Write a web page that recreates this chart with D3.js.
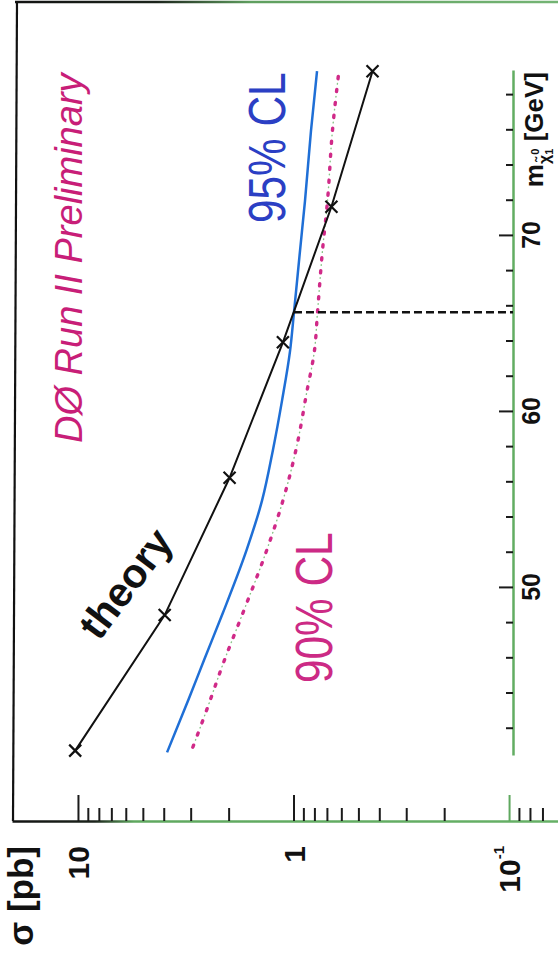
<!DOCTYPE html>
<html>
<head>
<meta charset="utf-8">
<script src="https://cdn.jsdelivr.net/npm/d3@7"></script>
<style>
  html, body { margin: 0; padding: 0; background: #fff; }
  svg { display: block; }
  text { font-family: "Liberation Sans", Arial, Helvetica, sans-serif; }
</style>
</head>
<body>
<svg id="chart" width="558" height="955"></svg>
<script>
// Chargino/neutralino cross section vs. neutralino mass (plot drawn rotated 90°)
const massTheory  = [40.7, 48.4, 56.2, 63.9, 71.6, 79.3];
const sigmaTheory = [10.3, 3.96, 1.98, 1.12, 0.667, 0.43];

const massCL95  = [40.6, 43.6, 45.85, 48.5, 52.1, 54.9, 57.8, 60.6, 63.4, 65.6, 69.1, 71.9, 75.9, 79.3];
const sigmaCL95 = [3.86, 3.07, 2.60, 2.13, 1.65, 1.40, 1.245, 1.13, 1.038, 0.995, 0.933, 0.885, 0.83, 0.778];

const massCL90  = [40.85, 43.0, 45.85, 48.5, 52.1, 54.9, 58.2, 61.0, 63.4, 65.6, 69.1, 71.9, 75.9, 79.0];
const sigmaCL90 = [2.94, 2.53, 2.09, 1.72, 1.33, 1.12, 0.958, 0.87, 0.80, 0.774, 0.734, 0.696, 0.66, 0.62];

const massLimit = 65.6;   // 95% CL exclusion
const sigmaLimit = 0.995;

const sigmaMajor = [10, 1, 0.1];
const sigmaMinor = [9, 8, 7, 6, 5, 4, 3, 2, 0.9, 0.8, 0.7, 0.6, 0.5, 0.4, 0.3, 0.2, 0.09, 0.08, 0.07];
const massMajor = [50, 60, 70];
const massMinor = [42, 44, 46, 48, 52, 54, 56, 58, 62, 64, 66, 68, 72, 74, 76, 78];

const svg = d3.select("#chart");

// sigma runs right-to-left along the bottom, mass runs bottom-to-top on the right
const xS = d3.scaleLog().domain([Math.pow(10, 1.306), Math.pow(10, -1.227)]).range([12, 558]);
const yM = d3.scaleLinear().domain([40.45, 79.37]).range([755, 70]);
const axisY = 821;   // sigma axis baseline
const axisX = 513;   // mass axis line

const defs = svg.append("defs");
function hGrad(id, stops) {
  const g = defs.append("linearGradient").attr("id", id)
    .attr("gradientUnits", "userSpaceOnUse")
    .attr("x1", 0).attr("x2", 558).attr("y1", 0).attr("y2", 0);
  stops.forEach(([o, c]) => g.append("stop").attr("offset", o).attr("stop-color", c));
}
hGrad("gTop", [[0, "#111"], [0.28, "#1c241c"], [0.45, "#5f9f5f"], [1, "#74b474"]]);
hGrad("gBot", [[0, "#111"], [0.17, "#1c241c"], [0.24, "#5fa85f"], [1, "#66b066"]]);

// frame: top and left borders
svg.append("line").attr("x1", 15).attr("x2", 558).attr("y1", 2).attr("y2", 2)
  .attr("stroke", "url(#gTop)").attr("stroke-width", 2.5);
svg.append("line").attr("x1", 17).attr("x2", 13).attr("y1", 1).attr("y2", axisY)
  .attr("stroke", "#111").attr("stroke-width", 2.2);

// sigma axis (bottom), ticks pointing into the plot
const gS = svg.append("g").attr("transform", `translate(0,${axisY})`);
gS.call(d3.axisBottom(xS).tickValues(sigmaMajor).tickSize(-26).tickSizeOuter(0).tickFormat(""));
const gS2 = svg.append("g").attr("transform", `translate(0,${axisY})`);
gS2.call(d3.axisBottom(xS).tickValues(sigmaMinor).tickSize(-13).tickSizeOuter(0).tickFormat(""));
gS2.select(".domain").remove();
gS.select(".domain").attr("stroke", "url(#gBot)").attr("stroke-width", 2.5);
[gS, gS2].forEach(g => g.selectAll(".tick line").attr("stroke", "#1a1a1a").attr("stroke-width", 2));
gS.selectAll(".tick line").filter(d => d === 0.1).attr("stroke", "#5fa85f");

// mass axis (right)
const gM = svg.append("g").attr("transform", `translate(${axisX},0)`);
gM.call(d3.axisRight(yM).tickValues(massMajor).tickSize(-14).tickSizeOuter(0).tickFormat(""));
const gM2 = svg.append("g").attr("transform", `translate(${axisX},0)`);
gM2.call(d3.axisRight(yM).tickValues(massMinor).tickSize(-7).tickSizeOuter(0).tickFormat(""));
gM2.select(".domain").remove();
gM.select(".domain").attr("stroke", "#62ad62").attr("stroke-width", 2.5);
[gM, gM2].forEach(g => g.selectAll(".tick line").attr("stroke", "#1a1a1a").attr("stroke-width", 2));

// sigma tick labels (rotated, right-aligned toward the top)
const sLab = svg.append("g").attr("font-weight", "bold").attr("font-size", 30).attr("fill", "#111");
[[10, "10"], [1, "1"]].forEach(([v, t]) => {
  sLab.append("text")
    .attr("transform", `translate(${xS(v) + 11},846) rotate(-90)`)
    .attr("text-anchor", "end").text(t);
});
const tenth = sLab.append("text")
  .attr("transform", `translate(${xS(0.1) + 11},846) rotate(-90)`)
  .attr("text-anchor", "end");
tenth.append("tspan").text("10");
tenth.append("tspan").attr("font-size", 15).attr("dy", -16).text("-1");

// sigma axis title
svg.append("text")
  .attr("transform", `translate(33,846) rotate(-90)`)
  .attr("text-anchor", "end").attr("font-weight", "bold").attr("font-size", 35).attr("fill", "#111")
  .text("σ [pb]");

// mass tick labels
const mLab = svg.append("g").attr("font-weight", "bold").attr("font-size", 25).attr("fill", "#111");
massMajor.forEach(v => {
  mLab.append("text")
    .attr("transform", `translate(540,${yM(v)}) rotate(-90)`)
    .attr("text-anchor", "middle").text(v);
});

// mass axis title
const mt = svg.append("text")
  .attr("transform", `translate(543,72) rotate(-90)`)
  .attr("text-anchor", "end").attr("font-weight", "bold").attr("font-size", 26).attr("fill", "#111");
mt.append("tspan").text("m");
mt.append("tspan").attr("font-size", 16).attr("dy", 7).text("χ̃");
mt.append("tspan").attr("font-size", 11).attr("dy", 3).text("1");
mt.append("tspan").attr("font-size", 11).attr("dy", -14).attr("dx", -6).text("0");
mt.append("tspan").attr("font-size", 26).attr("dy", 4).text(" [GeV]");

// curves: points ordered top to bottom on screen
const smooth = d3.line().curve(d3.curveMonotoneY);
const pts = (ms, ss) => ms.map((m, i) => [xS(ss[i]), yM(m)]);
const byY = p => p.slice().sort((a, b) => a[1] - b[1]);

const p90 = byY(pts(massCL90, sigmaCL90));
svg.append("path").attr("d", smooth(p90))
  .attr("fill", "none").attr("stroke", "#86c486").attr("stroke-width", 1.4)
  .attr("stroke-dasharray", "0.6,12.4").attr("stroke-dashoffset", -7).attr("stroke-linecap", "round");
svg.append("path").attr("d", smooth(p90))
  .attr("fill", "none").attr("stroke", "#d02a88").attr("stroke-width", 3.4)
  .attr("stroke-dasharray", "2.2,10.8").attr("stroke-linecap", "round");

svg.append("path").attr("d", smooth(byY(pts(massCL95, sigmaCL95))))
  .attr("fill", "none").attr("stroke", "#1f6fd6").attr("stroke-width", 2.5);

// exclusion marker: theory meets the 95% CL curve
svg.append("line")
  .attr("x1", xS(sigmaLimit)).attr("x2", axisX)
  .attr("y1", yM(massLimit)).attr("y2", yM(massLimit))
  .attr("stroke", "#111").attr("stroke-width", 2.5).attr("stroke-dasharray", "8,4");

// theory curve with markers
const pTh = byY(pts(massTheory, sigmaTheory));
svg.append("path").attr("d", d3.line()(pTh))
  .attr("fill", "none").attr("stroke", "#111").attr("stroke-width", 2);
svg.append("g").selectAll("path").data(pTh).join("path")
  .attr("transform", d => `translate(${d[0]},${d[1]})`)
  .attr("d", "M-6,-6L6,6M-6,6L6,-6")
  .attr("stroke", "#111").attr("stroke-width", 2.2);

// annotations
svg.append("text")
  .attr("transform", "translate(82,443) rotate(-90)")
  .attr("font-style", "italic").attr("font-size", 38).attr("fill", "#c81e78")
  .text("DØ Run II Preliminary");

svg.append("text")
  .attr("transform", "translate(285,223) rotate(-90) scale(0.83,1)")
  .attr("font-size", 51).attr("fill", "#2b3fc4")
  .text("95% CL");

svg.append("text")
  .attr("transform", "translate(332,683) rotate(-90) scale(0.83,1)")
  .attr("font-size", 51).attr("fill", "#cc2a85")
  .text("90% CL");

svg.append("text")
  .attr("transform", "translate(99,642) rotate(-53)")
  .attr("font-weight", "bold").attr("font-size", 41).attr("fill", "#111")
  .text("theory");
</script>
</body>
</html>
